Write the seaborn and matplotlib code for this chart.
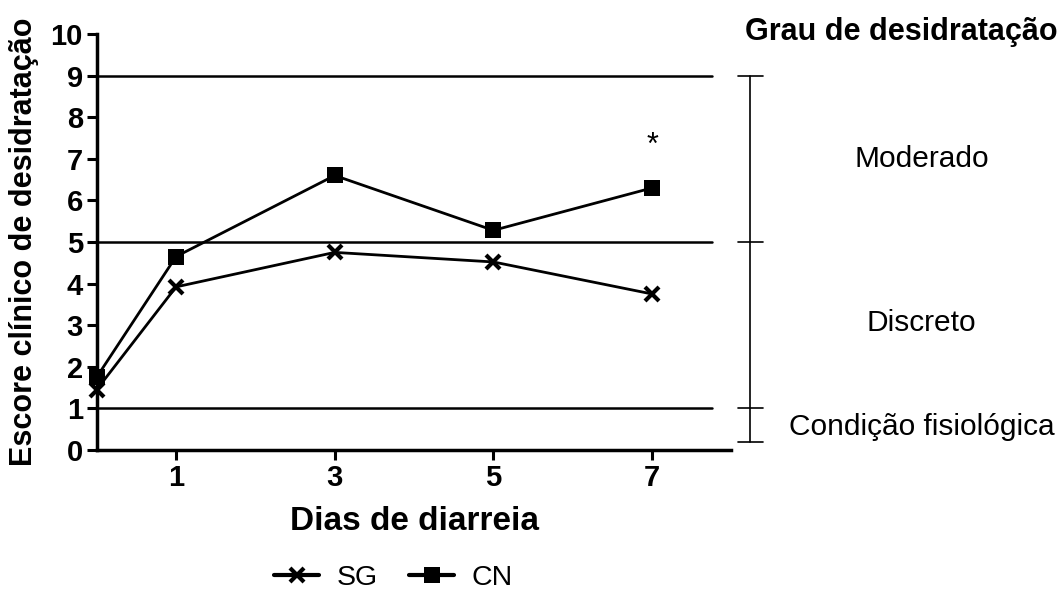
import numpy as np
import pandas as pd
import matplotlib
matplotlib.use("Agg")
import matplotlib.pyplot as plt
import seaborn as sns

# dados
dias = [0, 1, 3, 5, 7]
escore_sg = [1.45, 3.92, 4.75, 4.52, 3.75]
escore_cn = [1.75, 4.65, 6.6, 5.28, 6.3]
limites = [9, 5, 1]
graus = ["Moderado", "Discreto", "Condição fisiológica"]
graus_y = [7.0, 3.05, 0.55]
bracket_y = [9, 5, 1, 0.2]

sns.set_theme(style="ticks")
plt.rcParams['font.family'] = ['Liberation Sans', 'DejaVu Sans']
plt.rcParams['text.color'] = 'black'

df = pd.DataFrame({
    "dia": dias * 2,
    "escore": escore_sg + escore_cn,
    "grupo": ["SG"] * len(dias) + ["CN"] * len(dias),
})

fig = plt.figure(figsize=(10.63, 5.99), dpi=100)
ax = fig.add_axes([0.091, 0.249, 0.597, 0.694])

# linhas de referência
for lim in limites:
    ax.plot([0, 7.75], [lim, lim], color="black", lw=1.8, zorder=1)

sns.lineplot(data=df[df.grupo == "SG"], x="dia", y="escore", ax=ax, color="black",
             marker="x", markersize=10, markeredgewidth=3, markeredgecolor="black",
             linewidth=2, label="SG", clip_on=False, zorder=3)
sns.lineplot(data=df[df.grupo == "CN"], x="dia", y="escore", ax=ax, color="black",
             marker="s", markersize=11, markeredgewidth=0, linewidth=2, label="CN",
             clip_on=False, zorder=3)

ax.text(7, 7.3, "*", ha="center", va="center", fontsize=22)

ax.set_xlim(0, 8)
ax.set_ylim(0, 10)
ax.set_xticks([1, 3, 5, 7])
ax.set_yticks(range(0, 11))
ax.tick_params(axis="both", length=7, width=2.2, labelsize=21, colors="black", pad=3)
for lab in ax.get_xticklabels() + ax.get_yticklabels():
    lab.set_fontweight("bold")
for s in ["top", "right"]:
    ax.spines[s].set_visible(False)
for s in ["left", "bottom"]:
    ax.spines[s].set_linewidth(2.5)
    ax.spines[s].set_color("black")

ax.set_xlabel("Dias de diarreia", fontsize=24, fontweight="bold", labelpad=10, color="black")
ax.set_ylabel("Escore clínico de desidratação", fontsize=22, fontweight="bold", labelpad=8,
              color="black")

# barra de graus à direita
bx = 8.23
ax.plot([bx, bx], [bracket_y[-1], bracket_y[0]], color="black", lw=1.2, clip_on=False)
for by in bracket_y:
    ax.plot([bx - 0.15, bx + 0.17], [by, by], color="black", lw=1.2, clip_on=False)
for g, gy in zip(graus, graus_y):
    ax.text(10.4, gy, g, ha="center", va="center", fontsize=21.5, clip_on=False)
ax.text(10.14, 10.05, "Grau de desidratação", ha="center", va="center", fontsize=22,
        fontweight="bold", clip_on=False)

leg = ax.legend(loc="center", bbox_to_anchor=(0.37, 0.035), bbox_transform=fig.transFigure,
                ncol=2, frameon=False, fontsize=20.5, handlelength=1.6, columnspacing=1.1,
                handletextpad=0.6)
for ln in leg.get_lines():
    ln.set_linewidth(3)

fig.savefig("out.png", dpi=100)
